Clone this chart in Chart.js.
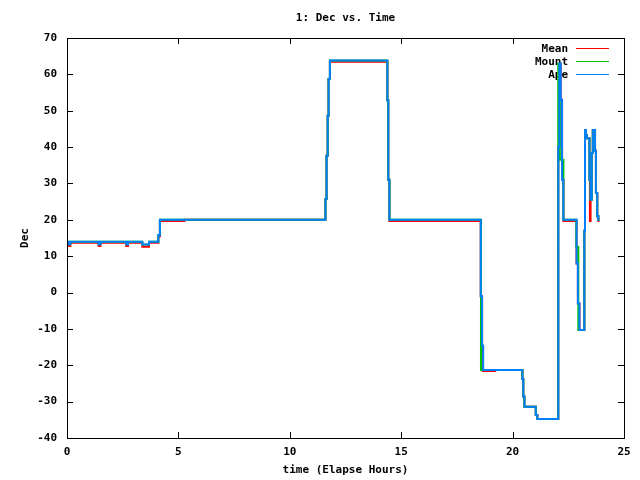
<!DOCTYPE html>
<html>
<head>
<meta charset="utf-8">
<script src="https://cdn.jsdelivr.net/npm/chart.js@4"></script>
<style>
  html, body { margin: 0; padding: 0; background: #fff; }
  canvas { display: block; }
</style>
</head>
<body>
<canvas id="c" width="640" height="480"></canvas>
<script>
// values: times (hours) where Dec changes, new Dec value
var apeT = [0, 0.06, 0.15, 1.42, 1.5, 2.66, 2.74, 3.38, 3.68, 4.1, 4.17,
  11.6, 11.65, 11.7, 11.74, 11.8, 14.38, 14.42, 14.47,
  18.57, 18.63, 18.68, 20.44, 20.48, 20.53, 21.04, 21.11,
  22.05, 22.1, 22.16, 22.22, 22.28, 22.87, 22.93, 23.0,
  23.22, 23.25, 23.29, 23.33, 23.45, 23.5, 23.55, 23.6, 23.7, 23.74, 23.8, 23.85, 23.9];
var apeDec = [14, 13.3, 14, 13.3, 14, 13.3, 14, 13.2, 14, 15.8, 20,
  25.7, 37.6, 48.6, 58.7, 63.8, 52.9, 31, 20,
  -1, -14.6, -21.3, -23.8, -28.6, -31.4, -33.7, -34.8,
  40, 63, 53, 31, 20, 8, -3, -10.3,
  17, 44.7, 43.3, 42.4, 31, 25.5, 38.4, 44.7, 39, 27.4, 21, 20, 20];

var mountT = [0, 0.06, 0.15, 1.42, 1.5, 2.66, 2.74, 3.38, 3.68, 4.1, 4.17,
  11.6, 11.65, 11.7, 11.74, 11.8, 14.38, 14.42, 14.47,
  18.58, 20.44, 20.48, 20.53, 21.04, 21.11,
  22.05, 22.12, 22.28, 22.86, 22.95,
  23.22, 23.25, 23.29, 23.33, 23.45, 23.5, 23.55, 23.6, 23.7, 23.74, 23.8, 23.85, 23.9];
var mountDec = [14, 13.3, 14, 13.3, 14, 13.3, 14, 13.2, 14, 15.8, 20,
  25.7, 37.6, 48.6, 58.7, 63.8, 52.9, 31, 20,
  -21.3, -23.8, -28.6, -31.4, -33.7, -34.8,
  63, 36.5, 20, 12.5, -10.3,
  17, 44.7, 43.3, 42.4, 31, 25.5, 38.4, 44.7, 39, 27.4, 21, 20, 20];

var meanT = [0, 0.06, 0.15, 1.42, 1.5, 2.66, 2.74, 3.38, 3.68, 4.1, 4.17, 5.27,
  11.6, 11.65, 11.7, 11.74, 11.8, 14.38, 14.42, 14.47,
  18.57, 18.63, 18.66, 19.22, 20.44, 20.48, 20.53, 21.04, 21.11,
  22.05, 22.1, 22.16, 22.22, 22.28, 22.87, 22.93, 23.0,
  23.22, 23.25, 23.29, 23.33, 23.45, 23.47, 23.5, 23.55, 23.6, 23.7, 23.74, 23.8, 23.85, 23.9];
var meanDec = [13.7, 12.8, 13.7, 12.8, 13.7, 12.8, 13.7, 12.6, 13.7, 15.5, 19.7, 20,
  25.7, 37.6, 48.6, 58.7, 63.5, 52.9, 31, 19.7,
  -1, -14.6, -21.6, -21.3, -23.8, -28.6, -31.4, -33.7, -34.8,
  40, 63, 53, 31, 19.7, 8, -3, -10.3,
  17, 44.7, 43.3, 42.4, 31, 19.7, 25.5, 38.4, 44.7, 39, 27.4, 21, 19.7, 19.7];

var xTicks = [0, 5, 10, 15, 20, 25];
var yTicks = [-40, -30, -20, -10, 0, 10, 20, 30, 40, 50, 60, 70];

function pts(t, v) {
  return t.map(function (x, i) { return { x: x, y: v[i] }; });
}

var FONT = 'bold 11px "DejaVu Sans Mono", monospace';

var frame = {
  id: 'frame',
  beforeDatasetsDraw: function (chart) {
    // key, top right inside the plot
    var ctx = chart.ctx;
    ctx.save();
    ctx.font = FONT;
    ctx.textAlign = 'right';
    ctx.textBaseline = 'middle';
    chart.data.datasets.forEach(function (ds, i) {
      var y = 49 + i * 13;
      ctx.fillStyle = '#000';
      ctx.fillText(ds.label, 568, y);
      ctx.strokeStyle = ds.borderColor;
      ctx.lineWidth = 1;
      ctx.beginPath();
      ctx.moveTo(576, y - 0.5);
      ctx.lineTo(609, y - 0.5);
      ctx.stroke();
    });
    ctx.restore();
  },
  afterDraw: function (chart) {
    var ctx = chart.ctx, a = chart.chartArea;
    var sx = chart.scales.x, sy = chart.scales.y;
    ctx.save();
    ctx.strokeStyle = '#000';
    ctx.lineWidth = 1;
    ctx.strokeRect(Math.round(a.left) + 0.5, Math.round(a.top) + 0.5,
      Math.round(a.right - a.left), Math.round(a.bottom - a.top));
    ctx.beginPath();
    xTicks.forEach(function (v) {
      var p = Math.round(sx.getPixelForValue(v)) + 0.5;
      ctx.moveTo(p, a.bottom); ctx.lineTo(p, a.bottom - 6);
      ctx.moveTo(p, a.top); ctx.lineTo(p, a.top + 6);
    });
    yTicks.forEach(function (v) {
      var p = Math.round(sy.getPixelForValue(v)) + 0.5;
      ctx.moveTo(a.left, p); ctx.lineTo(a.left + 6, p);
      ctx.moveTo(a.right, p); ctx.lineTo(a.right - 6, p);
    });
    ctx.stroke();

    ctx.fillStyle = '#000';
    ctx.font = FONT;
    ctx.textAlign = 'center';
    ctx.textBaseline = 'middle';
    var cx = (a.left + a.right) / 2;
    ctx.fillText('1: Dec vs. Time', cx, 18);
    ctx.fillText('time (Elapse Hours)', cx, 470);
    ctx.translate(25, (a.top + a.bottom) / 2);
    ctx.rotate(-Math.PI / 2);
    ctx.fillText('Dec', 0, 0);
    ctx.restore();
  }
};

var line = { showLine: true, stepped: true, pointRadius: 0, borderWidth: 2, fill: false };

new Chart(document.getElementById('c'), {
  type: 'scatter',
  data: {
    datasets: [
      Object.assign({ label: 'Mean', data: pts(meanT, meanDec), borderColor: '#ff0000', order: 3 }, line),
      Object.assign({ label: 'Mount', data: pts(mountT, mountDec), borderColor: '#00c000', order: 2 }, line),
      Object.assign({ label: 'Ape', data: pts(apeT, apeDec), borderColor: '#0080ff', order: 1 }, line)
    ]
  },
  options: {
    responsive: false,
    animation: false,
    devicePixelRatio: 1,
    layout: { padding: { top: 38, right: 16, left: 0, bottom: 0 } },
    plugins: { legend: { display: false }, tooltip: { enabled: false } },
    scales: {
      x: {
        type: 'linear', min: 0, max: 25,
        afterBuildTicks: function (s) { s.ticks = xTicks.map(function (v) { return { value: v }; }); },
        afterFit: function (s) { s.height = 42; },
        ticks: { color: '#000', font: { family: '"DejaVu Sans Mono", monospace', size: 11, weight: 'bold' }, padding: 8, maxRotation: 0 },
        grid: { display: false, drawTicks: false },
        border: { display: false }
      },
      y: {
        type: 'linear', min: -40, max: 70,
        afterBuildTicks: function (s) { s.ticks = yTicks.map(function (v) { return { value: v }; }); },
        afterFit: function (s) { s.width = 67; },
        ticks: { color: '#000', font: { family: '"DejaVu Sans Mono", monospace', size: 11, weight: 'bold' }, padding: 10 },
        grid: { display: false, drawTicks: false },
        border: { display: false }
      }
    }
  },
  plugins: [frame]
});
</script>
</body>
</html>
